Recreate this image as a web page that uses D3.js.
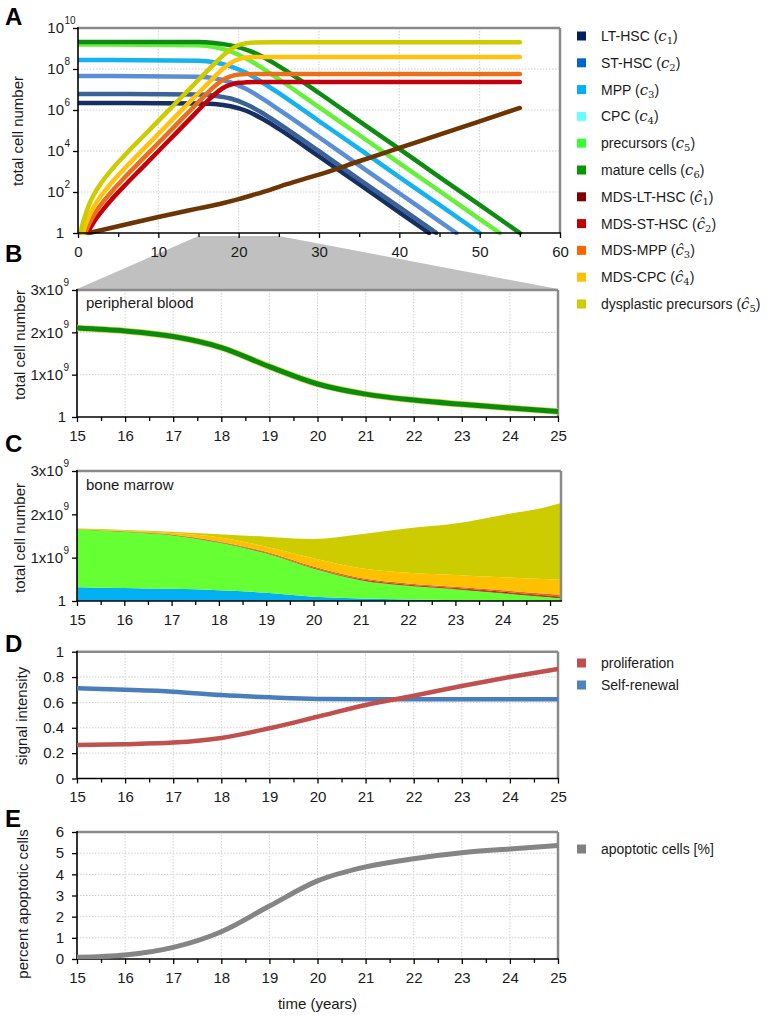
<!DOCTYPE html>
<html><head><meta charset="utf-8">
<script src="https://cdn.jsdelivr.net/npm/d3@7"></script>
<style>
body{margin:0;background:#fff}
svg text{font-family:"Liberation Sans",Arial,sans-serif;fill:#1a1a1a}
.grid{stroke:#cfcfcf;stroke-width:1;stroke-dasharray:1.5,1.5}
</style></head><body>
<svg id="chart" width="775" height="1017"></svg>
<script>
// ================= DATA =================
// Panel A: [time (years), log10(total cell number)]
const ltHsc   = [[0,6.34],[15,6.32],[17,6.29],[19,6.18],[21,5.95],[23,5.56],[25,5.08],[30,3.74],[35,2.38],[40,1.01],[43.7,0]];
const stHsc   = [[0,6.78],[15,6.76],[17,6.70],[19,6.56],[21,6.27],[23,5.84],[25,5.33],[30,3.99],[35,2.62],[40,1.26],[44.6,0]];
const mpp     = [[0,7.66],[15,7.62],[17,7.55],[19,7.35],[21,7.01],[23,6.54],[25,6.02],[30,4.67],[35,3.30],[40,1.94],[45,0.57],[47.1,0]];
const cpc     = [[0,8.44],[15,8.40],[17,8.33],[19,8.13],[21,7.80],[23,7.33],[25,6.82],[30,5.46],[35,4.10],[40,2.73],[45,1.37],[50,0]];
const precursors = [[0,9.20],[15,9.16],[17,9.07],[19,8.86],[21,8.50],[23,8.03],[25,7.50],[30,6.14],[35,4.78],[40,3.41],[45,2.05],[50,0.68],[52.5,0]];
const mature  = [[0,9.32],[15,9.32],[17,9.27],[19,9.15],[21,8.93],[23,8.60],[25,8.14],[30,6.83],[35,5.46],[40,4.10],[45,2.73],[50,1.37],[55,0]];
const mdsLt   = [[1.4,0],[5,0.33],[10,0.78],[15,1.2],[18,1.45],[20,1.65],[22,1.88],[24,2.12],[26,2.38],[28,2.62],[30,2.85],[35,3.5],[40,4.15],[45,4.8],[50,5.45],[55,6.1]];
const mdsSt   = [[1.2,0],[1.5,0.22],[2,0.55],[3,1.08],[4,1.55],[6,2.39],[8,3.19],[10,3.99],[12,4.79],[14,5.59],[16,6.39],[17,6.76],[18,7.06],[19,7.24],[20,7.33],[21,7.35],[22,7.36],[55,7.36]];
const mdsMpp  = [[0.9,0],[1.2,0.29],[1.5,0.53],[2,0.89],[3,1.46],[4,1.93],[6,2.79],[8,3.59],[10,4.39],[12,5.19],[14,5.99],[16,6.79],[17,7.16],[18,7.46],[19,7.64],[20,7.73],[21,7.75],[23,7.76],[55,7.76]];
const mdsCpc  = [[0.6,0],[1,0.46],[1.5,0.93],[2,1.30],[3,1.89],[4,2.37],[6,3.23],[8,4.03],[10,4.83],[12,5.63],[14,6.43],[16,7.23],[17,7.62],[18,8.00],[19,8.29],[20,8.48],[21,8.56],[22,8.58],[24,8.59],[55,8.59]];
const dysplastic = [[0.3,0],[0.6,0.47],[1,0.98],[1.5,1.49],[2,1.89],[3,2.50],[4,3.00],[6,3.87],[8,4.67],[10,5.47],[12,6.27],[14,7.07],[16,7.87],[17,8.26],[18,8.64],[19,8.95],[20,9.17],[21,9.26],[22,9.29],[24,9.30],[55,9.30]];
const aXTicks = [0,10,20,30,40,50,60];
const aXMinor = [5,15,25,35,45,55];
const aYExps  = [0,2,4,6,8,10];

// Legend A
const legendNames = ["LT-HSC","ST-HSC","MPP","CPC","precursors","mature cells","MDS-LT-HSC","MDS-ST-HSC","MDS-MPP","MDS-CPC","dysplastic precursors"];
const legendSyms  = ["c","c","c","c","c","c","ĉ","ĉ","ĉ","ĉ","ĉ"];
const legendSubs  = ["1","2","3","4","5","6","1","2","3","4","5"];

// Panel B: peripheral blood mature cells (x10^9)
const years = [15,16,17,18,19,20,21,22,23,24,25];
const pbMature = [2.10,2.03,1.90,1.64,1.19,0.78,0.54,0.40,0.30,0.21,0.13];
const cellTicks = [0,1,2,3]; // x10^9

// Panel C: bone marrow stacked (x10^9)
const bmYears = [15,16,17,18,19,20,21,22,23,24,25,25.25];
const bmProgenitors = [0.32,0.30,0.28,0.25,0.19,0.10,0.06,0.035,0.02,0.01,0.005,0.004];
const bmPrecursors  = [1.33,1.30,1.24,1.10,0.91,0.65,0.42,0.315,0.25,0.17,0.08,0.056];
const bmMdsLt  = [0.001,0.001,0.002,0.003,0.004,0.005,0.006,0.008,0.010,0.013,0.017,0.018];
const bmMdsSt  = [0.002,0.003,0.005,0.008,0.012,0.015,0.016,0.017,0.018,0.019,0.020,0.020];
const bmMdsMpp = [0.003,0.005,0.008,0.012,0.018,0.025,0.028,0.030,0.032,0.035,0.038,0.040];
const bmMdsCpc = [0.005,0.012,0.035,0.10,0.12,0.19,0.225,0.245,0.27,0.30,0.34,0.35];
const bmDysplastic = [0.01,0.02,0.03,0.07,0.23,0.445,0.785,1.03,1.19,1.44,1.69,1.78];

// Panel D: signal intensity
const proliferation = [0.264,0.270,0.283,0.320,0.396,0.487,0.580,0.653,0.730,0.800,0.864];
const selfRenewal   = [0.711,0.700,0.685,0.658,0.640,0.627,0.625,0.625,0.625,0.625,0.625];
const sigTicks = [0,0.2,0.4,0.6,0.8,1];

// Panel E: apoptotic cells [%]
const apoptotic = [0.08,0.19,0.55,1.29,2.50,3.69,4.35,4.74,5.02,5.20,5.36];
const apoTicks = [0,1,2,3,4,5,6];

// ================= STYLE =================
const lineColorsA = ["#162f62","#3a6198","#5a8fd5","#14b2ee","#66f03c","#0d8c12","#6b3504","#c4000c","#e8701c","#ffc20e","#cccc00"];
const swatchColorsA = ["#002060","#0066cc","#00b0f0","#66ffff","#33ff33","#009900","#7f0000","#c00000","#ff6600","#ffc000","#cccc00"];

const svg = d3.select('#chart');
const FONT = 15;

function frame(g, x0, x1, y0, y1){
  g.append('line').attr('x1',x0).attr('x2',x1).attr('y1',y0).attr('y2',y0).attr('stroke','#8a8a8a').attr('stroke-width',2.5);
  g.append('line').attr('x1',x1).attr('x2',x1).attr('y1',y0).attr('y2',y1).attr('stroke','#8a8a8a').attr('stroke-width',2.5);
  g.append('line').attr('x1',x0).attr('x2',x0).attr('y1',y0-1).attr('y2',y1).attr('stroke','#000').attr('stroke-width',1.6);
  g.append('line').attr('x1',x0).attr('x2',x1+1).attr('y1',y1).attr('y2',y1).attr('stroke','#000').attr('stroke-width',1.6);
}
function gridV(g, x, vals, y0, y1){
  g.selectAll(null).data(vals).join('line').attr('class','grid')
    .attr('x1',d=>x(d)).attr('x2',d=>x(d)).attr('y1',y0).attr('y2',y1);
}
function gridH(g, y, vals, x0, x1){
  g.selectAll(null).data(vals).join('line').attr('class','grid')
    .attr('y1',d=>y(d)).attr('y2',d=>y(d)).attr('x1',x0).attr('x2',x1);
}
function styleAxis(g){
  g.select('.domain').remove();
  g.selectAll('.tick line').attr('stroke','#000').attr('stroke-width',1.3);
  g.selectAll('.tick text').attr('font-size',FONT).attr('font-family','"Liberation Sans",Arial,sans-serif').attr('fill','#1a1a1a');
  g.attr('font-size',null).attr('font-family',null);
}
function xAxis(g, x, yPos, major, minor){
  g.append('g').attr('transform',`translate(0,${yPos})`)
    .call(d3.axisBottom(x).tickValues(minor).tickSize(4).tickFormat(''))
    .call(styleAxis);
  g.append('g').attr('transform',`translate(0,${yPos})`)
    .call(d3.axisBottom(x).tickValues(major).tickSize(5).tickPadding(8).tickFormat(d3.format('d')))
    .call(styleAxis);
}
function yTickMarks(g, y, xPos, vals){
  g.append('g').attr('transform',`translate(${xPos},0)`)
    .call(d3.axisLeft(y).tickValues(vals).tickSize(5).tickFormat(''))
    .call(styleAxis);
}
function supLabel(g, x, y, base, sup){
  g.append('text').attr('x',x).attr('y',y).attr('dy','0.35em').attr('text-anchor','end').attr('font-size',FONT).text(base);
  if(sup) g.append('text').attr('x',x+0.5).attr('y',y-4).attr('font-size',10).text(sup);
}
function yTitle(g, x, y, txt){
  g.append('text').attr('transform',`translate(${x},${y}) rotate(-90)`).attr('text-anchor','middle')
    .attr('font-size',FONT).text(txt);
}
function panelLetter(x, y, t){
  svg.append('text').attr('x',x).attr('y',y).attr('font-size',24).attr('font-weight','bold').style('fill','#000').text(t);
}
function clip(id, x0, x1, y0, y1){
  svg.append('clipPath').attr('id',id).append('rect').attr('x',x0).attr('y',y0).attr('width',x1-x0).attr('height',y1-y0);
}

// ================= PANEL A =================
const xA = d3.scaleLinear().domain([0,60]).range([78,560]);
const yA = d3.scaleLog().domain([1,1e10]).range([233,28]);
const gA = svg.append('g');
gridV(gA, xA, [10,20,30,40,50], 28, 233);
gridH(gA, yA, [1e2,1e4,1e6,1e8], 78, 560);

// zoom trapezoid (15-25 years) to panel B
const xB = d3.scaleLinear().domain([15,25]).range([77,558]);
const yB = d3.scaleLinear().domain([0,3e9]).range([417,290]);
svg.append('polygon')
  .attr('points',[[xA(15),236],[xA(25),236],[xB(25),289],[xB(15),289]].map(p=>p.join(',')).join(' '))
  .attr('fill','#c0c0c0');

clip('clipA', 78, 562, 20, 235);
const lineA = d3.line().x(d=>xA(d[0])).y(d=>yA(Math.pow(10,d[1]))).curve(d3.curveMonotoneX);
const seriesA = [ltHsc, stHsc, mpp, cpc, precursors, mature, mdsLt, mdsSt, mdsMpp, mdsCpc, dysplastic];
const gLinesA = svg.append('g').attr('clip-path','url(#clipA)');
seriesA.forEach((s,i)=>{
  gLinesA.append('path').attr('d',lineA(s)).attr('fill','none')
    .attr('stroke',lineColorsA[i]).attr('stroke-width',4.5).attr('stroke-linecap','round').attr('stroke-linejoin','round');
});
const gAx = svg.append('g');
frame(gAx, 78, 560, 28, 233);
xAxis(gAx, xA, 233, aXTicks, aXMinor);
yTickMarks(gAx, yA, 78, aYExps.map(e=>Math.pow(10,e)));
aYExps.forEach(e=>{
  if(e===0) supLabel(gAx, 64, yA(1), '1', null);
  else supLabel(gAx, 64, yA(Math.pow(10,e)), '10', String(e));
});
yTitle(gAx, 23, 131, 'total cell number');

// legend A
const gLeg = svg.append('g');
legendNames.forEach((n,i)=>{
  const cy = 36 + i*26.8;
  gLeg.append('rect').attr('x',577).attr('y',cy-4.5).attr('width',9).attr('height',9).attr('fill',swatchColorsA[i]);
  const t = gLeg.append('text').attr('x',601).attr('y',cy+5).attr('font-size',14);
  t.append('tspan').text(n+' (');
  t.append('tspan').attr('font-family','"DejaVu Serif",serif').attr('font-style','italic').attr('font-size',15).text(legendSyms[i]);
  t.append('tspan').attr('font-family','"DejaVu Serif",serif').attr('font-size',10).attr('dy',3).text(legendSubs[i]);
  t.append('tspan').attr('dy',-3).text(')');
});

// ================= PANEL B =================
const gB = svg.append('g');
gridV(gB, xB, [16,17,18,19,20,21,22,23,24], 290, 417);
gridH(gB, yB, [1e9,2e9], 77, 558);
clip('clipB', 77, 559, 290, 418);
const lineB = d3.line().x((d,i)=>xB(years[i])).y(d=>yB(d*1e9)).curve(d3.curveMonotoneX);
const gLB = svg.append('g').attr('clip-path','url(#clipB)');
gLB.append('path').attr('d',lineB(pbMature)).attr('fill','none').attr('stroke','#d2dc48').attr('stroke-width',6.5);
gLB.append('path').attr('d',lineB(pbMature)).attr('fill','none').attr('stroke','#0b8a10').attr('stroke-width',5);
frame(gB, 77, 558, 290, 417);
const halfTicks = d3.range(15.5,25,1);
xAxis(gB, xB, 417, years, halfTicks);
yTickMarks(gB, yB, 77, cellTicks.map(v=>v*1e9));
cellTicks.forEach(v=>{
  if(v===0) supLabel(gB, 66, yB(0), '1', null);
  else supLabel(gB, 63, yB(v*1e9), v+'x10', '9');
});
gB.append('text').attr('x',86).attr('y',308).attr('font-size',FONT).text('peripheral blood');
yTitle(gB, 25, 345, 'total cell number');

// ================= PANEL C =================
const xC = d3.scaleLinear().domain([15,25]).range([77,550]);
const yC = d3.scaleLinear().domain([0,3e9]).range([601,471]);
const keysC = ['prog','prec','mLt','mSt','mMpp','mCpc','dys'];
const colsC = ['#00b0f0','#66ff33','#7a1a00','#c00000','#e86a10','#ffc000','#cccc00'];
const tableC = bmYears.map((t,i)=>({t, prog:bmProgenitors[i], prec:bmPrecursors[i], mLt:bmMdsLt[i], mSt:bmMdsSt[i], mMpp:bmMdsMpp[i], mCpc:bmMdsCpc[i], dys:bmDysplastic[i]}));
const stackC = d3.stack().keys(keysC)(tableC);
clip('clipC', 77, 561, 471, 601);
const areaC = d3.area().x(d=>xC(d.data.t)).y0(d=>yC(d[0]*1e9)).y1(d=>yC(d[1]*1e9)).curve(d3.curveMonotoneX);
const gAC = svg.append('g').attr('clip-path','url(#clipC)');
stackC.forEach((s,i)=>{
  gAC.append('path').attr('d',areaC(s)).attr('fill',colsC[i]);
});
const gCx = svg.append('g');
frame(gCx, 77, 561, 471, 601);
xAxis(gCx, xC, 601, years, halfTicks);
yTickMarks(gCx, yC, 77, cellTicks.map(v=>v*1e9));
cellTicks.forEach(v=>{
  if(v===0) supLabel(gCx, 66, yC(0), '1', null);
  else supLabel(gCx, 63, yC(v*1e9), v+'x10', '9');
});
gCx.append('text').attr('x',86).attr('y',490).attr('font-size',FONT).text('bone marrow');
yTitle(gCx, 25, 538, 'total cell number');

// ================= PANEL D =================
const xD = d3.scaleLinear().domain([15,25]).range([77,558]);
const yD = d3.scaleLinear().domain([0,1]).range([778.5,651.7]);
const gD = svg.append('g');
gridV(gD, xD, [16,17,18,19,20,21,22,23,24], 652, 778);
gridH(gD, yD, [0.2,0.4,0.6,0.8], 77, 558);
clip('clipD', 77, 560, 645, 779);
const lineD = d3.line().x((d,i)=>xD(years[i])).y(d=>yD(d)).curve(d3.curveMonotoneX);
const gLD = svg.append('g').attr('clip-path','url(#clipD)');
gLD.append('path').attr('d',lineD(selfRenewal)).attr('fill','none').attr('stroke','#4a7dbb').attr('stroke-width',4.5);
gLD.append('path').attr('d',lineD(proliferation)).attr('fill','none').attr('stroke','#c0504d').attr('stroke-width',4.5);
frame(gD, 77, 558, 651.7, 778.5);
xAxis(gD, xD, 778.5, years, halfTicks);
yTickMarks(gD, yD, 77, sigTicks);
sigTicks.forEach(v=>supLabel(gD, 64, yD(v), d3.format('~g')(v), null));
yTitle(gD, 27, 716, 'signal intensity');
const legD = [['proliferation','#c0504d',663],['Self-renewal','#4f81bd',685]];
legD.forEach(l=>{
  gD.append('rect').attr('x',577).attr('y',l[2]-4.5).attr('width',9).attr('height',9).attr('fill',l[1]);
  gD.append('text').attr('x',601).attr('y',l[2]+5).attr('font-size',14).text(l[0]);
});

// ================= PANEL E =================
const xE = d3.scaleLinear().domain([15,25]).range([77,558]);
const yE = d3.scaleLinear().domain([0,6]).range([959,832]);
const gE = svg.append('g');
gridV(gE, xE, [16,17,18,19,20,21,22,23,24], 832, 959);
gridH(gE, yE, [1,2,3,4,5], 77, 558);
clip('clipE', 77, 560, 826, 959);
const lineE = d3.line().x((d,i)=>xE(years[i])).y(d=>yE(d)).curve(d3.curveMonotoneX);
svg.append('g').attr('clip-path','url(#clipE)').append('path').attr('d',lineE(apoptotic))
  .attr('fill','none').attr('stroke','#858585').attr('stroke-width',5);
frame(gE, 77, 558, 832, 959);
xAxis(gE, xE, 959, years, halfTicks);
yTickMarks(gE, yE, 77, apoTicks);
apoTicks.forEach(v=>supLabel(gE, 64, yE(v), String(v), null));
yTitle(gE, 28, 904, 'percent apoptotic cells');
gE.append('rect').attr('x',577).attr('y',844.5).attr('width',9).attr('height',9).attr('fill','#808080');
gE.append('text').attr('x',601).attr('y',854).attr('font-size',14).text('apoptotic cells [%]');
gE.append('text').attr('x',xE(20)).attr('y',1009).attr('text-anchor','middle').attr('font-size',FONT).text('time (years)');

// panel letters
panelLetter(5, 25, 'A');
panelLetter(5, 262, 'B');
panelLetter(5, 452, 'C');
panelLetter(5, 652, 'D');
panelLetter(5, 827, 'E');
</script>
</body></html>
